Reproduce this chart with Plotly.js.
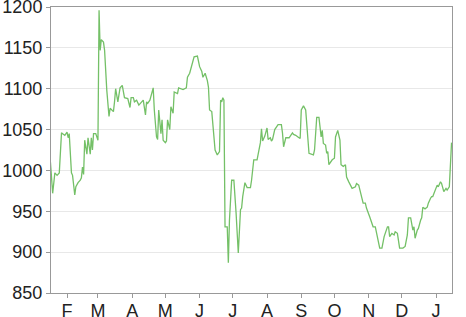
<!DOCTYPE html>
<html>
<head>
<meta charset="utf-8">
<script src="https://cdn.plot.ly/plotly-3.0.1.min.js"></script>
<style>
html,body{margin:0;padding:0;background:#fff;}
#chart{width:466px;height:317px;}
</style>
</head>
<body>
<div id="chart"></div>
<script>
var dates = [
'2015-01-17','2015-01-19','2015-01-21','2015-01-23','2015-01-25','2015-01-27','2015-01-28','2015-01-30',
'2015-02-01','2015-02-02','2015-02-03','2015-02-05','2015-02-06','2015-02-08','2015-02-09','2015-02-11',
'2015-02-13','2015-02-14','2015-02-15','2015-02-16','2015-02-17','2015-02-19','2015-02-20','2015-02-22',
'2015-02-23','2015-02-24','2015-02-25','2015-02-27','2015-03-01','2015-03-02','2015-03-03','2015-03-04',
'2015-03-06','2015-03-07','2015-03-09','2015-03-11','2015-03-12','2015-03-15','2015-03-16','2015-03-17',
'2015-03-19','2015-03-21','2015-03-23','2015-03-25','2015-03-28','2015-03-30','2015-03-31',
'2015-04-02','2015-04-03','2015-04-05','2015-04-07','2015-04-10','2015-04-11','2015-04-13','2015-04-14',
'2015-04-15','2015-04-17','2015-04-20','2015-04-21','2015-04-23','2015-04-24','2015-04-25','2015-04-27',
'2015-04-28','2015-04-29','2015-05-01','2015-05-02','2015-05-03','2015-05-05','2015-05-06','2015-05-08',
'2015-05-09','2015-05-12','2015-05-13','2015-05-17','2015-05-20','2015-05-21','2015-05-23','2015-05-27',
'2015-05-30','2015-05-31','2015-06-01','2015-06-03','2015-06-04','2015-06-06','2015-06-08','2015-06-09',
'2015-06-10','2015-06-12','2015-06-14','2015-06-15','2015-06-17','2015-06-19','2015-06-20','2015-06-21',
'2015-06-22','2015-06-23','2015-06-24','2015-06-26','2015-06-27','2015-06-28','2015-06-30','2015-07-02',
'2015-07-04','2015-07-06','2015-07-08','2015-07-09','2015-07-10','2015-07-12','2015-07-14','2015-07-17',
'2015-07-18','2015-07-20','2015-07-23','2015-07-24','2015-07-26','2015-07-27','2015-07-28','2015-07-30',
'2015-08-01','2015-08-02','2015-08-04','2015-08-05','2015-08-06','2015-08-08','2015-08-11','2015-08-14',
'2015-08-15','2015-08-16','2015-08-18','2015-08-21','2015-08-24','2015-08-25','2015-08-27','2015-08-29',
'2015-08-31','2015-09-01','2015-09-03','2015-09-05','2015-09-06','2015-09-08','2015-09-12','2015-09-13',
'2015-09-15','2015-09-17','2015-09-19','2015-09-20','2015-09-21','2015-09-23','2015-09-24','2015-09-25',
'2015-09-26','2015-09-29','2015-10-01','2015-10-02','2015-10-04','2015-10-06','2015-10-07','2015-10-09',
'2015-10-11','2015-10-12','2015-10-14','2015-10-17','2015-10-20','2015-10-21','2015-10-23','2015-10-25',
'2015-10-27','2015-10-29','2015-10-30','2015-11-02','2015-11-04','2015-11-05','2015-11-07','2015-11-09',
'2015-11-10','2015-11-11','2015-11-13','2015-11-15','2015-11-18','2015-11-19','2015-11-20','2015-11-22',
'2015-11-24','2015-11-25','2015-11-27','2015-11-28','2015-11-29','2015-12-02','2015-12-04','2015-12-06',
'2015-12-07','2015-12-09','2015-12-11','2015-12-12','2015-12-13','2015-12-15','2015-12-16','2015-12-18',
'2015-12-19','2015-12-20','2015-12-22','2015-12-24','2015-12-25','2015-12-27','2015-12-28','2015-12-29',
'2015-12-31','2016-01-02','2016-01-03','2016-01-05','2016-01-06','2016-01-07','2016-01-08','2016-01-10',
'2016-01-11','2016-01-13','2016-01-14','2016-01-15'
];
var values = [
1010,972,997,994,997,1046,1045,1043,
1047,1040,1045,997,994,970,980,985,
988,991,1004,995,1037,1020,1040,1020,
1040,1025,1045,1045,1037,1196,1147,1160,
1157,1147,1098,1066,1076,1072,1084,1100,
1084,1101,1104,1089,1088,1077,1089,
1089,1084,1086,1080,1084,1086,1068,1084,
1082,1086,1101,1074,1041,1038,1074,1045,
1062,1037,1034,1036,1062,1050,1078,1070,
1096,1094,1101,1099,1101,1114,1119,1139,
1140,1135,1127,1121,1114,1119,1110,1102,
1074,1072,1040,1025,1019,1023,1086,1084,
1089,1086,931,931,887,939,988,988,
948,899,952,954,968,985,979,979,
988,1013,1013,1021,1034,1051,1036,1042,
1052,1038,1040,1036,1038,1050,1056,1056,
1046,1029,1040,1040,1046,1044,1043,1041,
1039,1074,1079,1074,1059,1021,1019,1025,
1065,1065,1041,1049,1033,1031,1021,1023,
1007,1013,1015,1041,1049,1037,1007,1005,
1007,992,986,978,980,984,982,972,
960,960,954,943,933,931,931,919,
915,905,905,919,931,931,919,923,
921,925,923,915,905,905,907,921,
942,942,927,931,917,927,929,939,
942,955,953,955,960,966,968,968,
974,982,980,986,984,980,974,978,
976,980,1016,1034
];
var monthTicks = ['2015-02-01','2015-03-01','2015-04-01','2015-05-01','2015-06-01','2015-07-01',
'2015-08-01','2015-09-01','2015-10-01','2015-11-01','2015-12-01','2016-01-01'];
var monthLabels = ['F','M','A','M','J','J','A','S','O','N','D','J'];
var yTicks = [850,900,950,1000,1050,1100,1150,1200];

var trace = {
  x: dates, y: values, type: 'scatter', mode: 'lines',
  line: {color: '#74c067', width: 1.3},
  hoverinfo: 'none'
};
var font = {family: 'Liberation Sans, Arial, Helvetica, sans-serif', size: 18, color: '#222'};
var layout = {
  width: 466, height: 317,
  margin: {l: 51, r: 14, t: 7, b: 24, pad: 0},
  paper_bgcolor: '#fff', plot_bgcolor: '#fff',
  showlegend: false,
  font: font,
  xaxis: {
    type: 'date',
    range: ['2015-01-17 12:00', '2016-01-15 10:00'],
    tickmode: 'array', tickvals: monthTicks, ticktext: monthLabels,
    ticks: 'outside', ticklen: 4, tickcolor: '#999', tickwidth: 1,
    showgrid: false, zeroline: false,
    showline: true, linecolor: '#999', linewidth: 1, mirror: true,
    tickfont: font, ticklabeloverflow: 'allow', ticklabelstandoff: -3,
    automargin: false
  },
  yaxis: {
    range: [850, 1200],
    tickmode: 'array', tickvals: yTicks,
    ticks: 'outside', ticklen: 4, tickcolor: '#999', tickwidth: 1,
    showgrid: true, gridcolor: '#e8e8e8', gridwidth: 1, zeroline: false,
    showline: true, linecolor: '#999', linewidth: 1, mirror: true,
    tickfont: font, ticklabeloverflow: 'allow',
    automargin: false
  }
};
Plotly.newPlot('chart', [trace], layout, {staticPlot: true, displayModeBar: false});
</script>
</body>
</html>
